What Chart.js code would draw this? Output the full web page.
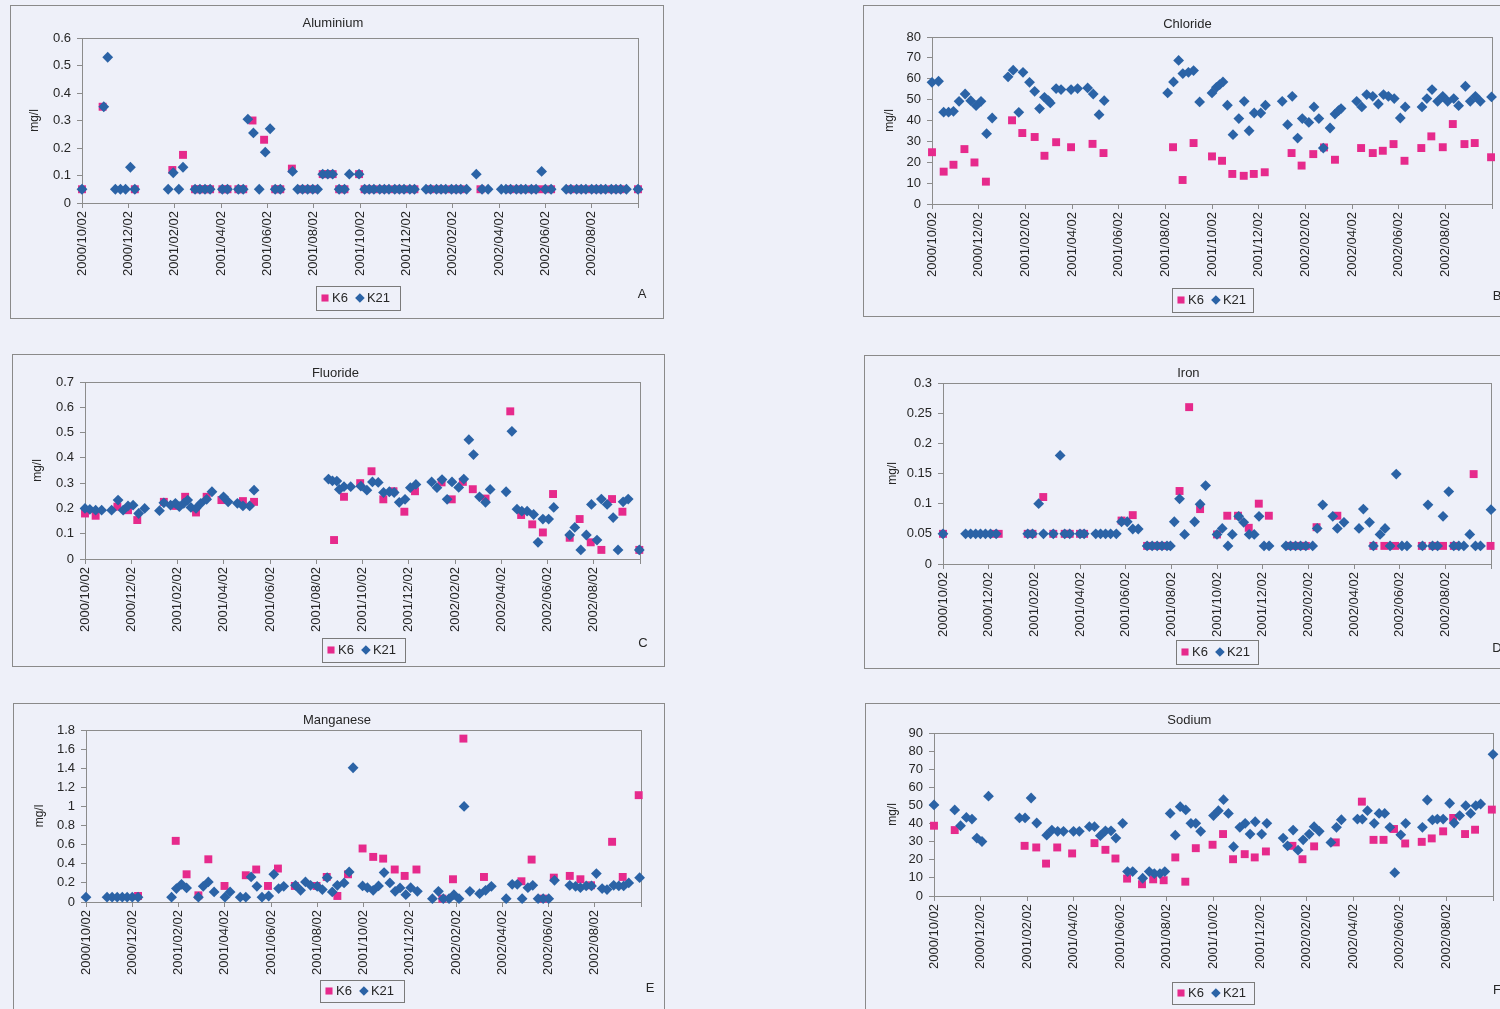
<!DOCTYPE html>
<html>
<head>
<meta charset="utf-8">
<title>Water quality K6 / K21</title>
<script src="https://cdn.jsdelivr.net/npm/chart.js@4.4.1/dist/chart.umd.min.js"></script>
<style>
  html, body { margin: 0; padding: 0; }
  body { width: 1500px; height: 1009px; overflow: hidden; position: relative; background: #eef0f9; }
  .panel { position: absolute; border: 1px solid #8a8a8a; box-sizing: border-box; }
  canvas { position: absolute; }
</style>
</head>
<body>
<script>
// x values are months after 2000/10/02; ticks every two months
const tickLabels = ['2000/10/02', '2000/12/02', '2001/02/02', '2001/04/02', '2001/06/02', '2001/08/02',
                    '2001/10/02', '2001/12/02', '2002/02/02', '2002/04/02', '2002/06/02', '2002/08/02'];
const seriesNames = ['K6', 'K21'];

// [month, mg/l]
const aluminiumK6 = [[0,0.05],[0.89,0.35],[2.28,0.05],[3.9,0.12],[4.36,0.175],[4.88,0.05],[5.09,0.05],[5.31,0.05],[5.53,0.05],[6.06,0.05],[6.28,0.05],[6.75,0.05],[6.96,0.05],[7.36,0.3],[7.86,0.23],[8.34,0.05],[8.56,0.05],[9.06,0.125],[9.52,0.05],[9.96,0.05],[10.39,0.105],[10.61,0.105],[10.82,0.105],[11.1,0.05],[11.33,0.05],[11.96,0.105],[12.2,0.05],[12.6,0.05],[13.05,0.05],[13.5,0.05],[13.9,0.05],[14.35,0.05],[15.05,0.05],[15.5,0.05],[15.95,0.05],[16.35,0.05],[17.2,0.05],[18.5,0.05],[18.95,0.05],[19.4,0.05],[19.84,0.05],[20.25,0.05],[21.1,0.05],[21.55,0.05],[22.0,0.05],[22.4,0.05],[22.85,0.05],[23.25,0.05],[24.0,0.05]];
const aluminiumK21 = [[0,0.05],[0.94,0.35],[1.11,0.53],[1.44,0.05],[1.66,0.05],[1.88,0.05],[2.09,0.13],[2.28,0.05],[3.72,0.05],[3.94,0.11],[4.18,0.05],[4.36,0.13],[4.88,0.05],[5.09,0.05],[5.31,0.05],[5.53,0.05],[6.06,0.05],[6.28,0.05],[6.75,0.05],[6.96,0.05],[7.16,0.305],[7.4,0.255],[7.65,0.05],[7.91,0.185],[8.12,0.27],[8.34,0.05],[8.56,0.05],[9.09,0.115],[9.31,0.05],[9.52,0.05],[9.74,0.05],[9.96,0.05],[10.17,0.05],[10.39,0.105],[10.61,0.105],[10.82,0.105],[11.1,0.05],[11.33,0.05],[11.54,0.105],[11.96,0.105],[12.2,0.05],[12.4,0.05],[12.6,0.05],[12.85,0.05],[13.05,0.05],[13.25,0.05],[13.5,0.05],[13.7,0.05],[13.9,0.05],[14.15,0.05],[14.35,0.05],[14.85,0.05],[15.05,0.05],[15.3,0.05],[15.5,0.05],[15.7,0.05],[15.95,0.05],[16.15,0.05],[16.35,0.05],[16.6,0.05],[17.02,0.105],[17.27,0.05],[17.53,0.05],[18.1,0.05],[18.3,0.05],[18.5,0.05],[18.75,0.05],[18.95,0.05],[19.15,0.05],[19.4,0.05],[19.6,0.05],[19.84,0.115],[20.0,0.05],[20.25,0.05],[20.9,0.05],[21.1,0.05],[21.35,0.05],[21.55,0.05],[21.75,0.05],[22.0,0.05],[22.2,0.05],[22.4,0.05],[22.6,0.05],[22.85,0.05],[23.05,0.05],[23.25,0.05],[23.5,0.05],[24.0,0.05]];

const chlorideK6 = [[0,24.8],[0.5,15.5],[0.92,18.8],[1.39,26.3],[1.82,19.9],[2.31,10.7],[3.43,40.1],[3.87,34],[4.4,32.1],[4.82,23.1],[5.32,29.6],[5.96,27.2],[6.88,28.8],[7.35,24.4],[10.33,27.2],[10.74,11.5],[11.21,29.2],[12.0,22.8],[12.43,20.7],[12.87,14.4],[13.36,13.5],[13.79,14.4],[14.26,15.2],[15.41,24.4],[15.84,18.4],[16.34,23.9],[16.8,27.1],[17.27,21.2],[18.39,26.8],[18.89,24.4],[19.32,25.5],[19.78,28.7],[20.25,20.7],[20.97,26.8],[21.4,32.4],[21.89,27.2],[22.32,38.3],[22.82,28.7],[23.26,29.2],[23.96,22.4]];
const chlorideK21 = [[0,58.3],[0.28,58.8],[0.5,44],[0.71,44],[0.92,44.4],[1.16,49.2],[1.42,52.7],[1.66,49.5],[1.89,47.1],[2.1,49.2],[2.34,33.7],[2.58,41.2],[3.26,60.9],[3.48,64.1],[3.72,43.9],[3.9,63.1],[4.18,58.3],[4.4,54],[4.61,45.7],[4.82,51.1],[4.99,49.5],[5.07,48.4],[5.32,55.3],[5.53,54.8],[5.96,54.8],[6.24,55.3],[6.67,55.6],[6.91,52.7],[7.16,42.8],[7.38,49.5],[10.1,53.2],[10.35,58.5],[10.57,68.8],[10.75,62.5],[10.99,63.1],[11.21,63.9],[11.47,48.9],[12.0,53.2],[12.19,55.9],[12.33,57.2],[12.47,58.5],[12.66,47.3],[12.9,33.2],[13.15,40.9],[13.38,49.2],[13.59,35.1],[13.81,43.6],[14.09,43.6],[14.29,47.3],[15.01,49.2],[15.24,38],[15.44,51.6],[15.67,31.6],[15.87,40.9],[16.15,39.1],[16.37,46.5],[16.58,40.9],[16.77,26.8],[17.06,36.4],[17.27,43.1],[17.42,44.7],[17.53,45.7],[18.2,49.2],[18.42,46.5],[18.63,52.4],[18.89,51.6],[19.13,47.9],[19.35,52.4],[19.56,51.6],[19.81,50.5],[20.07,41.2],[20.28,46.5],[21.0,46.5],[21.21,50.5],[21.43,54.8],[21.67,49.2],[21.89,51.6],[22.1,49.2],[22.36,50.5],[22.57,47.1],[22.86,56.4],[23.07,49.2],[23.29,51.6],[23.5,49.2],[23.98,51.3]];

const fluorideK6 = [[0,0.18],[0.46,0.171],[1.4,0.207],[1.86,0.193],[2.26,0.154],[3.41,0.226],[3.91,0.21],[4.33,0.246],[4.8,0.184],[5.26,0.246],[5.9,0.233],[6.83,0.229],[7.31,0.226],[10.77,0.075],[11.2,0.246],[11.9,0.3],[12.39,0.347],[12.9,0.236],[13.34,0.268],[13.81,0.187],[14.27,0.268],[15.42,0.303],[15.86,0.236],[16.34,0.305],[16.77,0.276],[17.32,0.239],[18.39,0.584],[18.86,0.174],[19.34,0.137],[19.8,0.105],[20.24,0.257],[20.96,0.084],[21.39,0.158],[21.87,0.066],[22.33,0.036],[22.79,0.237],[23.24,0.187],[23.97,0.036]];
const fluorideK21 = [[0,0.2],[0.21,0.196],[0.46,0.193],[0.72,0.193],[1.15,0.193],[1.43,0.233],[1.65,0.193],[1.86,0.21],[2.08,0.213],[2.32,0.18],[2.58,0.2],[3.22,0.191],[3.41,0.222],[3.7,0.213],[3.91,0.22],[4.08,0.207],[4.27,0.22],[4.44,0.233],[4.58,0.204],[4.8,0.2],[5.01,0.22],[5.26,0.236],[5.49,0.266],[5.99,0.246],[6.19,0.226],[6.59,0.22],[6.83,0.21],[7.12,0.21],[7.31,0.272],[10.53,0.316],[10.7,0.309],[10.89,0.308],[11.0,0.275],[11.2,0.286],[11.49,0.286],[11.93,0.288],[12.19,0.272],[12.43,0.305],[12.68,0.303],[12.91,0.263],[13.16,0.266],[13.37,0.263],[13.59,0.224],[13.84,0.236],[14.07,0.282],[14.31,0.295],[14.99,0.305],[15.22,0.282],[15.44,0.314],[15.66,0.236],[15.87,0.305],[16.16,0.283],[16.38,0.316],[16.6,0.472],[16.8,0.413],[17.06,0.246],[17.32,0.224],[17.52,0.275],[18.21,0.266],[18.46,0.505],[18.68,0.197],[18.89,0.189],[19.12,0.189],[19.4,0.176],[19.59,0.066],[19.8,0.158],[20.05,0.158],[20.27,0.204],[20.96,0.095],[21.18,0.125],[21.44,0.036],[21.68,0.095],[21.9,0.216],[22.14,0.075],[22.33,0.237],[22.58,0.216],[22.84,0.164],[23.05,0.036],[23.27,0.226],[23.49,0.237],[23.97,0.036]];

const ironK6 = [[0,0.05],[2.22,0.05],[2.44,0.05],[3.71,0.05],[3.92,0.05],[4.39,0.111],[4.83,0.05],[5.33,0.05],[5.55,0.05],[6.0,0.05],[6.18,0.05],[7.82,0.072],[8.31,0.081],[8.94,0.03],[9.38,0.03],[9.81,0.03],[10.36,0.121],[10.78,0.26],[11.26,0.091],[12.0,0.049],[12.45,0.08],[12.92,0.08],[13.39,0.06],[13.83,0.1],[14.27,0.08],[15.22,0.03],[15.66,0.03],[15.89,0.03],[16.36,0.061],[17.27,0.08],[18.85,0.03],[19.33,0.03],[19.8,0.03],[20.97,0.03],[21.44,0.03],[21.9,0.03],[22.37,0.03],[23.24,0.149],[23.98,0.03]];
const ironK21 = [[0,0.05],[0.99,0.05],[1.21,0.05],[1.43,0.05],[1.64,0.05],[1.86,0.05],[2.08,0.05],[2.33,0.05],[3.71,0.05],[3.92,0.05],[4.19,0.1],[4.4,0.05],[4.83,0.05],[5.13,0.18],[5.33,0.05],[5.55,0.05],[6.0,0.05],[6.18,0.05],[6.69,0.05],[6.9,0.05],[7.12,0.05],[7.34,0.05],[7.59,0.05],[7.82,0.07],[8.07,0.07],[8.31,0.058],[8.55,0.058],[8.94,0.03],[9.16,0.03],[9.38,0.03],[9.59,0.03],[9.81,0.03],[9.96,0.03],[10.13,0.07],[10.36,0.108],[10.58,0.049],[11.02,0.07],[11.26,0.099],[11.5,0.13],[12.0,0.049],[12.23,0.059],[12.48,0.03],[12.67,0.049],[12.95,0.079],[13.17,0.069],[13.41,0.049],[13.63,0.049],[13.84,0.079],[14.06,0.03],[14.28,0.03],[15.02,0.03],[15.22,0.03],[15.44,0.03],[15.66,0.03],[15.89,0.03],[16.19,0.03],[16.39,0.059],[16.63,0.098],[17.07,0.079],[17.27,0.059],[17.56,0.069],[18.22,0.059],[18.41,0.091],[18.68,0.069],[18.85,0.03],[19.14,0.049],[19.36,0.059],[19.58,0.03],[19.85,0.149],[20.1,0.03],[20.32,0.03],[21.0,0.03],[21.24,0.098],[21.44,0.03],[21.66,0.03],[21.9,0.079],[22.15,0.12],[22.37,0.03],[22.59,0.03],[22.81,0.03],[23.07,0.049],[23.32,0.03],[23.54,0.03],[24.0,0.09]];

const manganeseK6 = [[2.25,0.063],[3.88,0.64],[4.35,0.29],[4.86,0.07],[5.29,0.447],[5.99,0.168],[6.91,0.28],[7.36,0.34],[7.87,0.168],[8.3,0.35],[9.03,0.168],[9.97,0.168],[10.41,0.262],[10.87,0.063],[11.33,0.29],[11.96,0.56],[12.42,0.472],[12.85,0.454],[13.35,0.34],[13.78,0.273],[14.29,0.34],[15.41,0.035],[15.87,0.238],[16.32,1.71],[17.21,0.262],[18.83,0.217],[19.27,0.444],[19.77,0.035],[20.23,0.255],[20.92,0.273],[21.38,0.238],[21.84,0.175],[22.75,0.63],[23.21,0.262],[23.9,1.118]];
const manganeseK21 = [[0,0.05],[0.91,0.05],[1.13,0.05],[1.35,0.05],[1.57,0.05],[1.78,0.05],[2.0,0.05],[2.25,0.05],[3.7,0.05],[3.91,0.14],[4.13,0.185],[4.35,0.147],[4.86,0.05],[5.07,0.164],[5.29,0.21],[5.54,0.105],[6.01,0.05],[6.23,0.105],[6.67,0.05],[6.91,0.05],[7.14,0.262],[7.39,0.164],[7.61,0.05],[7.9,0.063],[8.12,0.29],[8.33,0.14],[8.55,0.164],[9.06,0.175],[9.28,0.122],[9.49,0.21],[9.71,0.175],[10.0,0.164],[10.22,0.13],[10.43,0.255],[10.65,0.105],[10.87,0.175],[11.16,0.2],[11.38,0.315],[11.55,1.405],[11.96,0.168],[12.17,0.15],[12.42,0.122],[12.65,0.168],[12.89,0.308],[13.14,0.2],[13.37,0.112],[13.58,0.147],[13.83,0.077],[14.04,0.15],[14.33,0.112],[14.98,0.035],[15.24,0.112],[15.45,0.035],[15.7,0.035],[15.91,0.077],[16.13,0.035],[16.35,1.0],[16.6,0.112],[17.02,0.087],[17.28,0.122],[17.53,0.164],[18.17,0.035],[18.43,0.185],[18.65,0.185],[18.86,0.035],[19.11,0.15],[19.32,0.175],[19.55,0.035],[19.77,0.035],[20.01,0.035],[20.26,0.227],[20.92,0.175],[21.17,0.164],[21.38,0.15],[21.63,0.168],[21.86,0.168],[22.07,0.297],[22.32,0.14],[22.53,0.13],[22.82,0.175],[23.04,0.168],[23.25,0.168],[23.47,0.2],[23.94,0.255]];

const sodiumK6 = [[0,38.8],[0.89,36.4],[3.89,27.7],[4.39,26.8],[4.81,17.9],[5.29,26.8],[5.93,23.5],[6.89,29.2],[7.36,25.5],[7.79,20.7],[8.29,9.6],[8.93,6.5],[9.41,9.2],[9.86,8.7],[10.36,21.3],[10.79,7.9],[11.24,26.4],[11.96,28.3],[12.41,34.2],[12.84,20.3],[13.34,23.1],[13.77,21.3],[14.25,24.6],[15.39,27.7],[15.82,20.3],[16.32,27.4],[17.25,29.6],[18.37,52.1],[18.87,31],[19.3,31],[19.75,37],[20.23,29],[20.94,29.9],[21.37,31.8],[21.86,35.7],[22.29,43.1],[22.8,34.2],[23.23,36.6],[23.95,47.7]];
const sodiumK21 = [[0,50.3],[0.89,47.5],[1.14,38.8],[1.39,43.4],[1.63,42.5],[1.84,32],[2.06,30.1],[2.34,55.1],[3.67,43.1],[3.91,43.1],[4.17,54.1],[4.41,40.3],[4.84,33.6],[5.06,36.4],[5.31,35.7],[5.56,35.7],[5.99,35.7],[6.24,35.7],[6.67,38.3],[6.89,38.3],[7.14,33.3],[7.36,36],[7.6,36],[7.81,32],[8.1,40.1],[8.31,13.5],[8.53,13.5],[8.96,9.8],[9.24,13.5],[9.46,12.4],[9.7,12.4],[9.91,13.5],[10.14,45.6],[10.36,33.6],[10.57,49.3],[10.81,47.5],[11.03,40.1],[11.24,40.1],[11.45,35.7],[12.0,44.4],[12.21,47.1],[12.43,53.2],[12.64,45.6],[12.86,27.2],[13.13,37.9],[13.36,40.1],[13.57,34.2],[13.79,41],[14.07,34.2],[14.29,40.1],[14.99,32],[15.18,27.7],[15.42,36.4],[15.63,25.3],[15.85,31],[16.11,34.2],[16.32,38.3],[16.54,35.7],[17.04,29.6],[17.28,37.9],[17.49,42.1],[18.18,42.5],[18.39,42.5],[18.61,47.1],[18.9,40.1],[19.11,45.6],[19.35,45.6],[19.57,37.9],[19.78,12.9],[20.04,33.8],[20.25,40.1],[20.97,37.9],[21.18,53],[21.4,42],[21.61,42.5],[21.86,42.5],[22.14,51.2],[22.33,40.3],[22.57,44.4],[22.83,49.9],[23.04,45.6],[23.26,49.9],[23.47,50.8],[24.0,78.2]];

// Page layout of the six panels (page pixels): outer box, plot area, title line,
// y-axis caption column, legend box and panel letter.
const panels = [
  { letter: 'A', title: 'Aluminium', k6: aluminiumK6, k21: aluminiumK21, yMax: 0.6, yStep: 0.1,
    box: [10, 5, 664, 319], plot: [82, 38, 638, 203], titleY: 23, captionX: 35,
    legend: [316, 286, 400, 310], letterAt: [642, 294] },
  { letter: 'B', title: 'Chloride', k6: chlorideK6, k21: chlorideK21, yMax: 80, yStep: 10,
    box: [863, 5, 1517, 317], plot: [932, 37, 1492, 204], titleY: 24, captionX: 890,
    legend: [1172, 288, 1253, 312], letterAt: [1497, 296] },
  { letter: 'C', title: 'Fluoride', k6: fluorideK6, k21: fluorideK21, yMax: 0.7, yStep: 0.1,
    box: [12, 354, 665, 667], plot: [85, 382, 640, 559], titleY: 373, captionX: 38,
    legend: [322, 638, 405, 662], letterAt: [643, 643] },
  { letter: 'D', title: 'Iron', k6: ironK6, k21: ironK21, yMax: 0.3, yStep: 0.05,
    box: [864, 355, 1517, 669], plot: [943, 383, 1491, 564], titleY: 373, captionX: 893,
    legend: [1176, 640, 1258, 664], letterAt: [1497, 648] },
  { letter: 'E', title: 'Manganese', k6: manganeseK6, k21: manganeseK21, yMax: 1.8, yStep: 0.2,
    box: [13, 703, 665, 1016], plot: [86, 730, 641, 902], titleY: 720, captionX: 40,
    legend: [320, 980, 404, 1002], letterAt: [650, 988] },
  { letter: 'F', title: 'Sodium', k6: sodiumK6, k21: sodiumK21, yMax: 90, yStep: 10,
    box: [865, 703, 1519, 1016], plot: [934, 733, 1493, 896], titleY: 720, captionX: 893,
    legend: [1172, 982, 1254, 1004], letterAt: [1497, 990] }
];

const FONT = '"Liberation Sans", Arial, Helvetica, sans-serif';
const K6_COLOR = '#e62a8c';
const K21_COLOR = '#2b63a6';
const AXIS_COLOR = '#8c8c8c';
const TEXT_COLOR = '#262626';

Chart.defaults.font.family = FONT;
Chart.defaults.color = TEXT_COLOR;

// Plot-area frame, boxed legend and the panel letter
const panelDecor = {
  id: 'panelDecor',
  beforeDatasetsDraw(chart) {
    const { ctx, chartArea: a } = chart;
    ctx.save();
    ctx.strokeStyle = AXIS_COLOR;
    ctx.lineWidth = 1;
    ctx.strokeRect(Math.round(a.left) + 0.5, Math.round(a.top) + 0.5,
                   Math.round(a.right - a.left), Math.round(a.bottom - a.top));
    ctx.restore();
  },
  afterDraw(chart, args, opts) {
    const { ctx } = chart;
    const [l, t, r, b] = opts.legendBox;
    ctx.save();
    ctx.strokeStyle = '#7a7a7a';
    ctx.lineWidth = 1;
    ctx.strokeRect(Math.round(l) + 0.5, Math.round(t) + 0.5, Math.round(r - l), Math.round(b - t));
    const cy = (t + b) / 2;
    ctx.font = '13px ' + FONT;
    ctx.textBaseline = 'middle';
    ctx.textAlign = 'left';
    let x = l + 9;
    chart.data.datasets.forEach((ds) => {
      ctx.fillStyle = ds.backgroundColor;
      Chart.helpers.drawPoint(ctx, {
        pointStyle: ds.pointStyle, radius: ds.pointRadius - 0.6, rotation: 0, borderWidth: 0
      }, x, cy);
      ctx.fillStyle = TEXT_COLOR;
      ctx.fillText(ds.label, x + 7, cy + 0.5);
      x += 7 + ctx.measureText(ds.label).width + 12;
    });
    ctx.font = '13px ' + FONT;
    ctx.textAlign = 'center';
    ctx.fillStyle = TEXT_COLOR;
    ctx.fillText(opts.letter, opts.letterAt[0], opts.letterAt[1]);
    ctx.restore();
  }
};

const toPoints = (pairs) => pairs.map(([x, y]) => ({ x, y }));

panels.forEach((p) => {
  const [bl, bt, br, bb] = p.box;
  const [pl, pt, pr, pb] = p.plot;
  const W = br - bl, H = bb - bt;

  const frame = document.createElement('div');
  frame.className = 'panel';
  Object.assign(frame.style, { left: bl + 'px', top: bt + 'px', width: W + 'px', height: H + 'px' });
  document.body.appendChild(frame);

  const canvas = document.createElement('canvas');
  canvas.width = W; canvas.height = H;
  Object.assign(canvas.style, { left: bl + 'px', top: bt + 'px', width: W + 'px', height: H + 'px' });
  document.body.appendChild(canvas);

  const titleSize = 13, titleLH = titleSize * 1.2;
  const captionLH = 12 * 1.2;
  const padLeft = p.captionX - bl - captionLH / 2;
  const yWidth = (pl - bl) - padLeft;
  const xHeight = 82;
  const padBottom = (bb - pb) - xHeight;
  const padRight = br - pr;

  new Chart(canvas, {
    type: 'scatter',
    data: {
      datasets: [
        { label: seriesNames[0], data: toPoints(p.k6), pointStyle: 'rect', pointRadius: 5.6,
          backgroundColor: K6_COLOR, borderColor: K6_COLOR, borderWidth: 0, order: 1, clip: false },
        { label: seriesNames[1], data: toPoints(p.k21), pointStyle: 'rectRot', pointRadius: 5.4,
          backgroundColor: K21_COLOR, borderColor: K21_COLOR, borderWidth: 0, order: 0, clip: false }
      ]
    },
    options: {
      responsive: false,
      animation: false,
      events: [],
      layout: { autoPadding: false, padding: { left: padLeft, right: padRight, top: 0, bottom: padBottom } },
      plugins: {
        legend: { display: false },
        tooltip: { enabled: false },
        title: {
          display: true, text: p.title, color: TEXT_COLOR,
          font: { size: titleSize, weight: 'normal', family: FONT },
          padding: { top: p.titleY - bt - titleLH / 2, bottom: pt - p.titleY - titleLH / 2 }
        },
        panelDecor: {
          legendBox: [p.legend[0] - bl, p.legend[1] - bt, p.legend[2] - bl, p.legend[3] - bt],
          letter: p.letter,
          letterAt: [p.letterAt[0] - bl, p.letterAt[1] - bt]
        }
      },
      scales: {
        x: {
          type: 'linear', min: 0, max: 24,
          afterFit(scale) { scale.height = xHeight; },
          grid: { drawOnChartArea: false, drawTicks: true, tickLength: 5, color: AXIS_COLOR },
          border: { color: AXIS_COLOR },
          ticks: {
            stepSize: 2, autoSkip: false, minRotation: 90, maxRotation: 90, padding: 3,
            color: TEXT_COLOR, font: { size: 13 },
            callback: (v) => {
              const i = Math.round(v / 2);
              return Math.abs(v - i * 2) < 1e-6 && i < tickLabels.length ? tickLabels[i] : '';
            }
          }
        },
        y: {
          type: 'linear', min: 0, max: p.yMax,
          afterFit(scale) { scale.width = yWidth; },
          grid: { drawOnChartArea: false, drawTicks: true, tickLength: 5, color: AXIS_COLOR },
          border: { color: AXIS_COLOR },
          title: { display: true, text: 'mg/l', color: TEXT_COLOR, font: { size: 12 }, padding: 0 },
          ticks: {
            stepSize: p.yStep, autoSkip: false, padding: 6, color: TEXT_COLOR, font: { size: 13 },
            callback: (v) => String(Number(v.toFixed(3)))
          }
        }
      }
    },
    plugins: [panelDecor]
  });
});
</script>
</body>
</html>
